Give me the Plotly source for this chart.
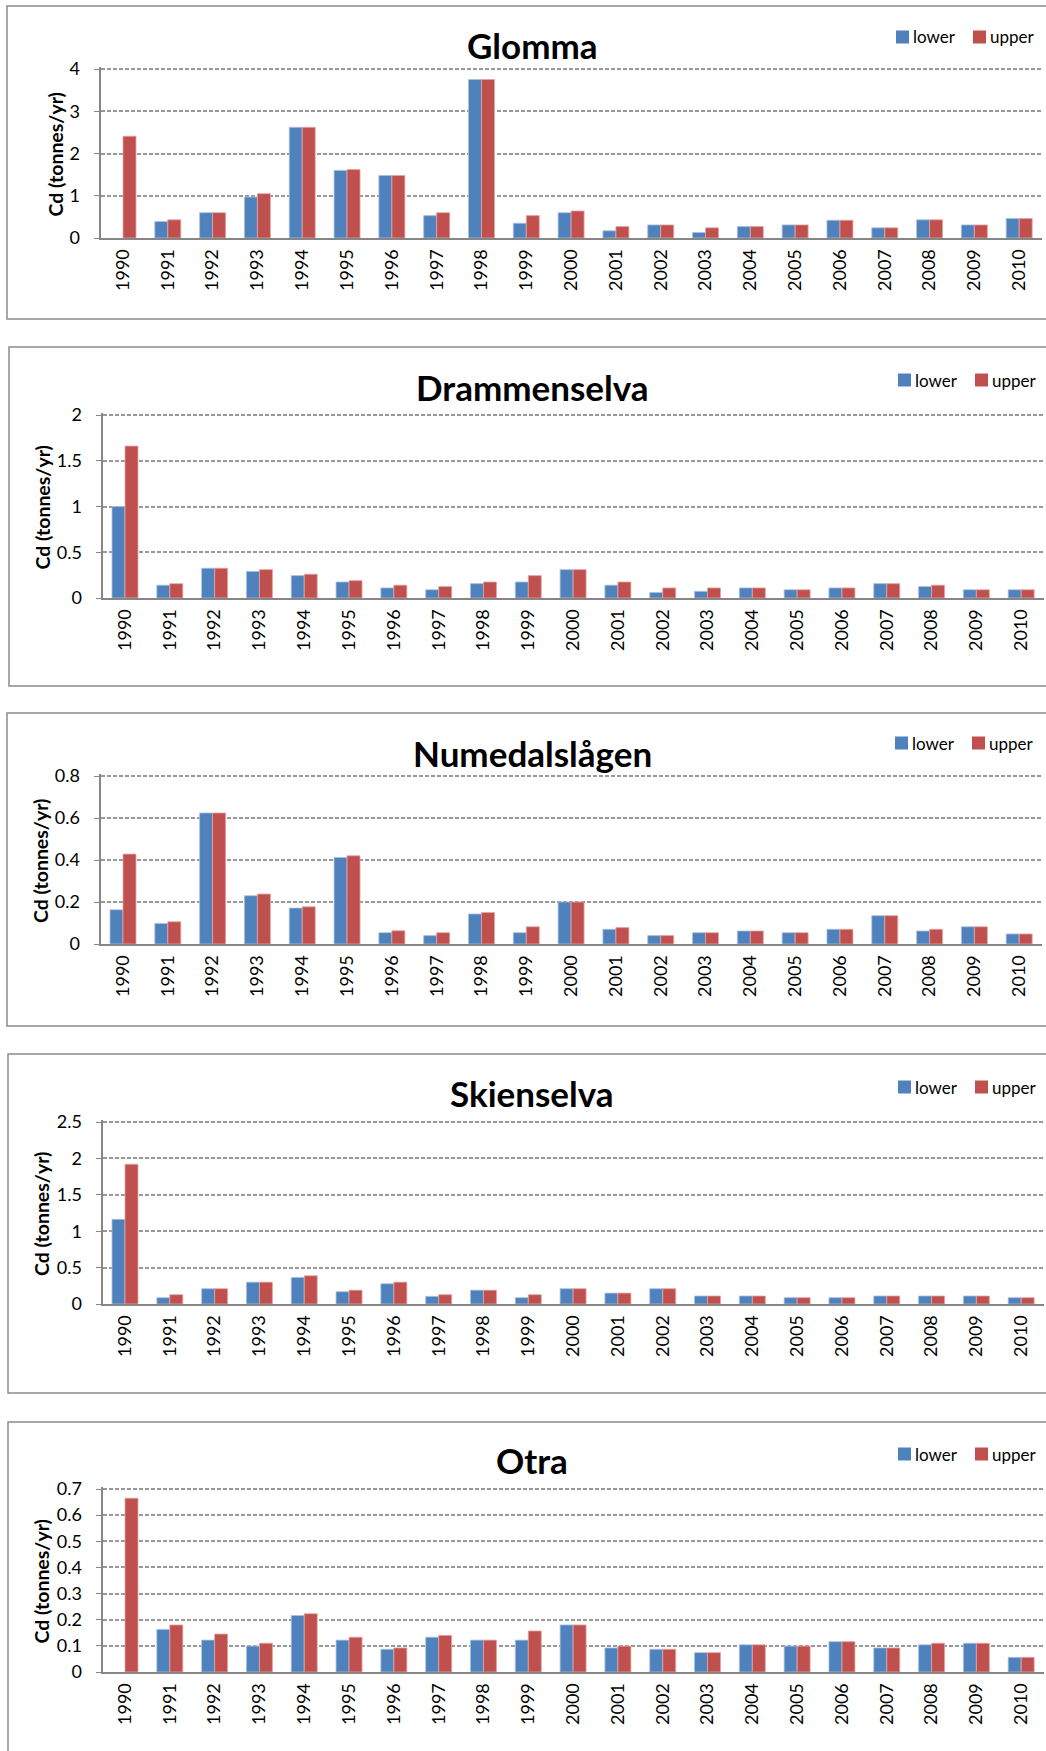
import plotly.graph_objects as go

W, H = 1046, 1751

years = ["1990", "1991", "1992", "1993", "1994", "1995", "1996", "1997", "1998", "1999", "2000",
         "2001", "2002", "2003", "2004", "2005", "2006", "2007", "2008", "2009", "2010"]

rivers = ["Glomma", "Drammenselva", "Numedalslågen", "Skienselva", "Otra"]

glomma_lower = [None, 0.39, 0.60, 0.97, 2.62, 1.60, 1.48, 0.53, 3.75, 0.35, 0.60,
                0.17, 0.31, 0.13, 0.27, 0.31, 0.42, 0.24, 0.43, 0.31, 0.46]
glomma_upper = [2.41, 0.43, 0.60, 1.05, 2.62, 1.62, 1.48, 0.60, 3.75, 0.53, 0.64,
                0.27, 0.31, 0.24, 0.27, 0.31, 0.42, 0.24, 0.43, 0.31, 0.46]

drammen_lower = [1.00, 0.14, 0.325, 0.29, 0.245, 0.175, 0.11, 0.09, 0.157, 0.175, 0.31,
                 0.14, 0.06, 0.073, 0.11, 0.09, 0.11, 0.157, 0.125, 0.09, 0.09]
drammen_upper = [1.66, 0.157, 0.325, 0.31, 0.26, 0.19, 0.14, 0.125, 0.175, 0.245, 0.31,
                 0.175, 0.11, 0.11, 0.11, 0.09, 0.11, 0.157, 0.14, 0.09, 0.09]

numedal_lower = [0.163, 0.098, 0.624, 0.23, 0.171, 0.412, 0.054, 0.04, 0.143, 0.054, 0.20,
                 0.07, 0.04, 0.054, 0.062, 0.054, 0.07, 0.135, 0.062, 0.082, 0.048]
numedal_upper = [0.428, 0.106, 0.624, 0.238, 0.177, 0.42, 0.063, 0.054, 0.15, 0.082, 0.20,
                 0.078, 0.04, 0.054, 0.062, 0.054, 0.07, 0.135, 0.07, 0.082, 0.048]

skien_lower = [1.163, 0.087, 0.21, 0.30, 0.365, 0.169, 0.278, 0.105, 0.19, 0.087, 0.21,
               0.15, 0.21, 0.11, 0.11, 0.087, 0.087, 0.11, 0.11, 0.11, 0.087]
skien_upper = [1.92, 0.128, 0.21, 0.30, 0.388, 0.19, 0.30, 0.128, 0.19, 0.128, 0.21,
               0.15, 0.21, 0.11, 0.11, 0.087, 0.087, 0.11, 0.11, 0.11, 0.087]

otra_lower = [None, 0.163, 0.122, 0.099, 0.216, 0.122, 0.087, 0.133, 0.122, 0.122, 0.18,
              0.092, 0.087, 0.074, 0.104, 0.099, 0.116, 0.092, 0.104, 0.11, 0.056]
otra_upper = [0.665, 0.18, 0.145, 0.11, 0.223, 0.133, 0.092, 0.14, 0.122, 0.157, 0.18,
              0.099, 0.087, 0.074, 0.104, 0.099, 0.116, 0.092, 0.11, 0.11, 0.056]

lower_series = [glomma_lower, drammen_lower, numedal_lower, skien_lower, otra_lower]
upper_series = [glomma_upper, drammen_upper, numedal_upper, skien_upper, otra_upper]

y_max = [4, 2, 0.8, 2.5, 0.7]
y_step = [1, 0.5, 0.2, 0.5, 0.1]

# panel geometry in pixels: plot left, top (= y_max line), bottom (= 0 line), box left/top/bottom,
# title y, legend y, legend x, y-title x
panels = [
    dict(left=100.6, top=69, bottom=238, bx=7, btop=6, bbot=319, ty=45, ly=37, lx=896, yt=55),
    dict(left=102.6, top=415, bottom=598, bx=9, btop=347, bbot=686, ty=387, ly=380, lx=898, yt=42),
    dict(left=100.6, top=776, bottom=944, bx=7, btop=713, bbot=1026, ty=753, ly=743, lx=895, yt=40),
    dict(left=102.6, top=1122, bottom=1304, bx=8, btop=1054, bbot=1393, ty=1093, ly=1087, lx=898, yt=41),
    dict(left=102.6, top=1489, bottom=1672, bx=8, btop=1422, bbot=1800, ty=1460, ly=1454, lx=898, yt=41),
]

HEAD = 1.01  # small headroom so the top gridline is drawn; domain is stretched to match

BLUE = "#4F81BD"
RED = "#C0504D"
GREY = "#868686"
FONT = "Lato, Carlito, Calibri, sans-serif"


def fx(px):
    return px / W


def fy(py):
    return 1 - py / H


fig = go.Figure()
shapes = []
annotations = []

for i, p in enumerate(panels):
    n = "" if i == 0 else str(i + 1)
    fig.add_trace(go.Bar(x=years, y=lower_series[i], name="lower", marker_color=BLUE,
                         marker_line=dict(color="#A9C1E0", width=0.8),
                         xaxis="x" + n, yaxis="y" + n, showlegend=False))
    fig.add_trace(go.Bar(x=years, y=upper_series[i], name="upper", marker_color=RED,
                         marker_line=dict(color="#E2A6A4", width=0.8),
                         xaxis="x" + n, yaxis="y" + n, showlegend=False))

    top_px = p["bottom"] - (p["bottom"] - p["top"]) * HEAD

    fig.layout["xaxis" + n] = dict(
        domain=[fx(p["left"]), fx(p["left"] + 941)], anchor="y" + n, type="category",
        tickangle=-90, showline=True, linecolor=GREY, linewidth=2, ticks="",
        showgrid=False, tickfont=dict(family=FONT, size=18, color="#000"),
        ticklabelstandoff=2, automargin=False,
    )
    fig.layout["yaxis" + n] = dict(
        domain=[fy(p["bottom"]), fy(top_px)], anchor="x" + n,
        range=[0, y_max[i] * HEAD], dtick=y_step[i], tick0=0,
        showline=True, linecolor=GREY, linewidth=2, ticks="outside", ticklen=5,
        tickcolor=GREY, showgrid=True, gridcolor="#999999", gridwidth=1.6, griddash="4px,2px",
        zeroline=False, tickfont=dict(family=FONT, size=18, color="#000"),
        ticklabelstandoff=10, automargin=False,
    )

    # panel border
    shapes.append(dict(type="rect", xref="paper", yref="paper",
                       x0=fx(p["bx"]), x1=1.05, y0=fy(p["bbot"]), y1=fy(p["btop"]),
                       line=dict(color="#8C8C8C", width=1.5), layer="below"))

    # title
    annotations.append(dict(text="<b>%s</b>" % rivers[i], xref="paper", yref="paper",
                            x=fx(532), y=fy(p["ty"]), xanchor="center", yanchor="middle",
                            showarrow=False, font=dict(family=FONT, size=35, color="#000")))
    # y title
    annotations.append(dict(text="<b>Cd (tonnes/yr)</b>", xref="paper", yref="paper",
                            x=fx(p["yt"]), y=fy((p["top"] + p["bottom"]) / 2 + 1),
                            xanchor="center", yanchor="middle", textangle=-90,
                            showarrow=False, font=dict(family=FONT, size=19.5, color="#000")))

    # legend
    for k, (lab, col) in enumerate([("lower", BLUE), ("upper", RED)]):
        x0 = p["lx"] + 77 * k
        shapes.append(dict(type="rect", xref="paper", yref="paper",
                           x0=fx(x0), x1=fx(x0 + 13), y0=fy(p["ly"] + 6.5), y1=fy(p["ly"] - 6.5),
                           fillcolor=col, line=dict(width=0)))
        annotations.append(dict(text=lab, xref="paper", yref="paper",
                                x=fx(x0 + 15), y=fy(p["ly"]), xanchor="left", yanchor="middle",
                                showarrow=False, font=dict(family=FONT, size=17, color="#000")))

fig.update_layout(
    width=W, height=H, margin=dict(l=0, r=0, t=0, b=0, autoexpand=False),
    paper_bgcolor="white", plot_bgcolor="white",
    barmode="group", bargap=0.42, bargroupgap=0,
    shapes=shapes, annotations=annotations, showlegend=False,
)

fig.write_html("out.html", config={"displayModeBar": False},
               post_script="document.body.style.margin='0';")
